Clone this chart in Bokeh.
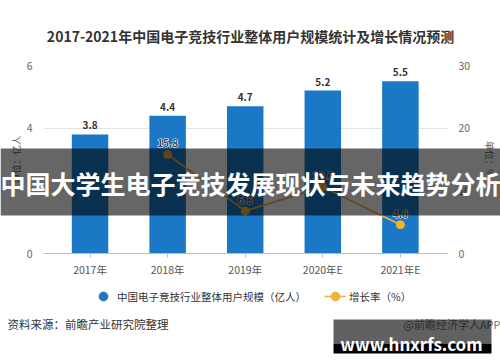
from bokeh.plotting import figure
from bokeh.models import (Range1d, LinearAxis, FixedTicker, Label, BoxAnnotation,
                          Legend, LegendItem, ColumnDataSource)
from bokeh.embed import file_html
from bokeh.resources import INLINE
from bokeh.core.properties import value

# ---- data ----
years = ["2017年", "2018年", "2019年", "2020年E", "2021年E"]
users = [3.8, 4.4, 4.7, 5.2, 5.5]                 # 亿人
growth_years = ["2018年", "2019年", "2020年E", "2021年E"]
growth = [15.8, 6.8, 10.6, 4.6]                   # %
left_ticks = [0, 2, 4, 6]
right_ticks = [0, 10, 20, 30]

title_text = "2017-2021年中国电子竞技行业整体用户规模统计及增长情况预测"
banner_text = "中国大学生电子竞技发展现状与未来趋势分析"
source_text = "资料来源：前瞻产业研究院整理"
brand_text = "@前瞻经济学人APP"
site_text = "www.hnxrfs.com"
bar_name = "中国电子竞技行业整体用户规模（亿人）"
line_name = "增长率（%）"

FONT = "Noto Sans CJK SC"
BLUE = "#1a78c6"
GOLD = "#f2b233"

# frame geometry (canvas px)
FL, FR, FT, FB = 43, 455, 65, 253
W, H = 500, 362

idx = list(range(len(years)))
gidx = [years.index(y) for y in growth_years]

p = figure(width=W, height=H, output_backend="svg", toolbar_location=None,
           x_range=Range1d(-0.6, 4.62), y_range=Range1d(0, 6),
           min_border_left=FL, min_border_right=W - FR,
           min_border_top=FT, min_border_bottom=H - FB)
p.outline_line_color = None
p.background_fill_color = "white"
p.border_fill_color = "white"
p.extra_y_ranges = {"pct": Range1d(0, 30)}

# bars
bsrc = ColumnDataSource(dict(x=idx, top=users, lab=[f"{v:.1f}" for v in users]))
p.vbar(x="x", top="top", width=0.47, source=bsrc, fill_color=BLUE, line_color=None)
p.text(x="x", y="top", text="lab", source=bsrc, y_offset=-5, text_align="center",
       text_baseline="bottom", text_font=value(FONT), text_font_size="10px",
       text_font_style="bold", text_color="#333333")

# growth line
gsrc = ColumnDataSource(dict(x=gidx, y=growth, lab=[f"{v:.1f}" for v in growth]))
p.line(x="x", y="y", source=gsrc, y_range_name="pct", line_color=GOLD, line_width=1.6)
p.scatter(x="x", y="y", source=gsrc, y_range_name="pct", size=8,
          fill_color=GOLD, line_color=GOLD)
# halo, then dark text on top
p.text(x="x", y="y", text="lab", source=gsrc, y_range_name="pct", y_offset=-7,
       text_align="center", text_baseline="bottom", text_font=value(FONT),
       text_font_size="10px", text_font_style="bold", text_color="white",
       text_outline_color="white")
p.text(x="x", y="y", text="lab", source=gsrc, y_range_name="pct", y_offset=-7,
       text_align="center", text_baseline="bottom", text_font=value(FONT),
       text_font_size="10px", text_font_style="bold", text_color="#444444")

# axes
xa = p.xaxis[0]
xa.ticker = FixedTicker(ticks=idx)
xa.major_label_overrides = {i: y for i, y in zip(idx, years)}
xa.axis_line_color = "#bdbdbd"
xa.major_tick_line_color = "#bdbdbd"
xa.major_tick_out = 4
xa.major_tick_in = 0
xa.minor_tick_line_color = None
xa.major_label_text_font = FONT
xa.major_label_text_font_size = "10.5px"
xa.major_label_text_color = "#555555"
xa.major_label_standoff = 4

ya = p.yaxis[0]
ya.ticker = FixedTicker(ticks=left_ticks)
ya.axis_line_color = None
ya.major_tick_line_color = None
ya.minor_tick_line_color = None
ya.major_label_text_font = FONT
ya.major_label_text_font_size = "10.5px"
ya.major_label_text_color = "#666666"
ya.major_label_standoff = 5
ya.axis_label = "单位：亿人"
ya.axis_label_text_font = FONT
ya.axis_label_text_font_size = "9.5px"
ya.axis_label_text_font_style = "normal"
ya.axis_label_text_color = "#666666"
ya.axis_label_standoff = 1

ra = LinearAxis(y_range_name="pct", ticker=FixedTicker(ticks=right_ticks))
ra.axis_line_color = None
ra.major_tick_line_color = None
ra.minor_tick_line_color = None
ra.major_label_text_font = FONT
ra.major_label_text_font_size = "10.5px"
ra.major_label_text_color = "#666666"
ra.major_label_standoff = 4
ra.axis_label = "单位：%"
ra.axis_label_text_font = FONT
ra.axis_label_text_font_size = "9.5px"
ra.axis_label_text_font_style = "normal"
ra.axis_label_text_color = "#666666"
ra.axis_label_standoff = 10
p.add_layout(ra, "right")

p.xgrid.grid_line_color = None
p.ygrid.grid_line_color = "#e3e3e3"
p.ygrid.ticker = FixedTicker(ticks=left_ticks)

# ---- overlay figure (separate root): full-canvas frame in pixel coords, y from top ----
q = figure(width=W, height=H, output_backend="svg", toolbar_location=None,
           x_range=Range1d(0, W), y_range=Range1d(H, 0),
           x_axis_type=None, y_axis_type=None, min_border=0)
q.outline_line_color = None
q.background_fill_alpha = 0
q.border_fill_alpha = 0
q.xgrid.visible = False
q.ygrid.visible = False
q.styles = {"position": "absolute", "top": "0px", "left": "0px", "z-index": "5"}

def lab(x, y, text, size, color, align="left", bold=False, baseline="middle"):
    q.add_layout(Label(x=x, y=y, text=text, text_align=align, text_baseline=baseline,
                       text_font=FONT, text_font_size=size,
                       text_font_style="bold" if bold else "normal",
                       text_color=color, level="overlay"))

lab(250, 35, title_text, "14px", "#333333", "center", True)
lab(7, 323, source_text, "11.5px", "#333333")
lab(500, 323, brand_text, "11px", "#777777", "right")

# legend: hidden proxies sharing the chart's sources (only their legend glyphs show)
bar_proxy = q.scatter(x="x", y="top", source=bsrc, size=11, marker="circle",
                      fill_color=BLUE, line_color=BLUE, visible=False)
line_proxy = q.line(x="x", y="y", source=gsrc, line_color=GOLD, line_width=1.6, visible=False)
dot_proxy = q.scatter(x="x", y="y", source=gsrc, size=7, fill_color=GOLD, line_color=GOLD,
                      visible=False)
legend = Legend(items=[LegendItem(label=bar_name, renderers=[bar_proxy], index=0),
                       LegendItem(label=line_name, renderers=[line_proxy, dot_proxy], index=0)],
                orientation="horizontal", location=(92, H - 308),
                label_text_font=FONT, label_text_font_size="10.5px",
                label_text_color="#333333", glyph_width=22, glyph_height=24,
                spacing=18, padding=0, margin=0, label_standoff=3,
                border_line_color=None, background_fill_alpha=0,
                inactive_fill_alpha=0)
q.add_layout(legend, "center")

# overlay banner
q.add_layout(BoxAnnotation(left=0, right=W, top=148, bottom=215, fill_color="black",
                           fill_alpha=0.6, line_color=None, level="overlay"))
lab(250, 182, banner_text, "25px", "white", "center", True)

# site watermark box
q.add_layout(BoxAnnotation(left=333, right=491, top=319, bottom=343, fill_color="black",
                           fill_alpha=0.62, line_color=None, level="overlay"))
q.add_layout(BoxAnnotation(left=333, right=491, top=343, bottom=353, fill_color="black",
                           fill_alpha=1.0, line_color=None, level="overlay"))
lab(411, 343, site_text, "17px", "white", "center", True, "alphabetic")

open("out.html", "w").write(file_html([p, q], INLINE))
